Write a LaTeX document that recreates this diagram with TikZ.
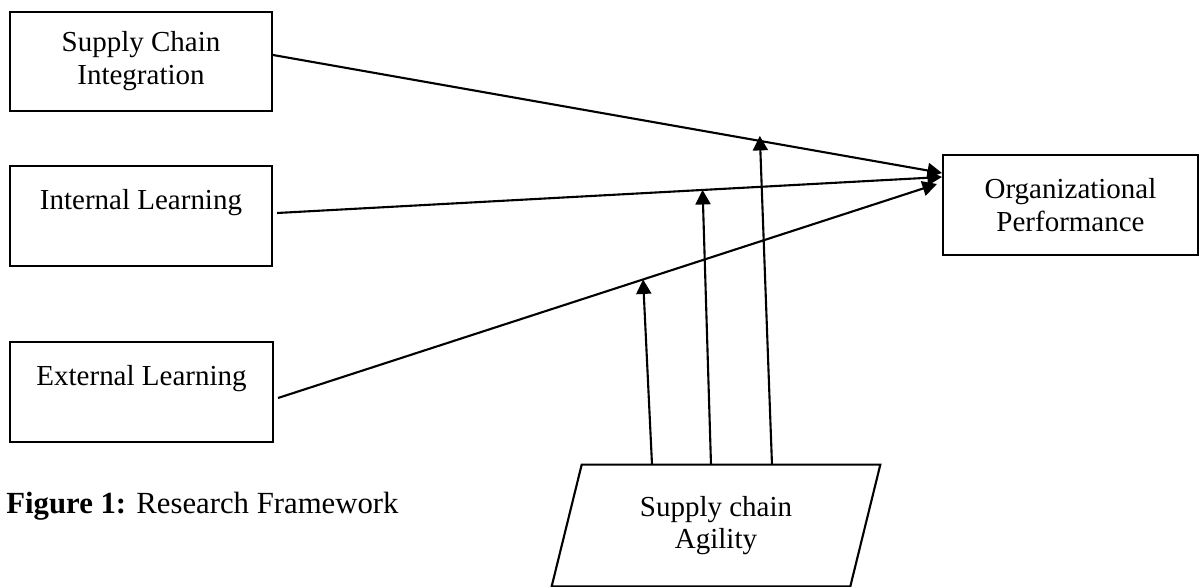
\documentclass[tikz,border=0pt]{standalone}
\usepackage{fontspec}
\setmainfont{Liberation Serif}
\usetikzlibrary{arrows.meta}

\begin{document}
\begin{tikzpicture}[x=0.02cm,y=-0.02cm,
        txt/.style={font=\fontsize{16.5}{18.7}\selectfont, align=center, inner sep=0pt},
        box/.style={txt, draw, line width=1.2pt},
        arr/.style={line width=1.2pt, -{Triangle[length=0.29cm,width=0.3cm]}}]
        \useasboundingbox (0,0) rectangle (1200,587);

        \node[box, minimum width=5.24cm, minimum height=1.98cm] (SCI) at (141,61.5) {Supply Chain\\Integration};
        \node[box, minimum width=5.24cm, minimum height=2cm] (IL) at (141,216) {Internal Learning\\\mbox{}};
        \node[box, minimum width=5.26cm, minimum height=2cm] (EL) at (141.5,392) {External Learning\\\mbox{}};
        \node[box, minimum width=5.1cm, minimum height=2cm] (OP) at (1070.5,205) {Organizational\\Performance};
        \node[txt, minimum width=5.96cm, minimum height=2.42cm] (SCA) at (716,525.5) {Supply chain\\Agility};
        \node[txt, font=\fontsize{17.5}{20}\selectfont, anchor=base west] (cap) at (6,513) {\textbf{Figure 1:} Research Framework};

        \draw[line width=1.2pt] ([xshift=0.3cm]SCA.north west) -- ([xshift=0.3cm]SCA.north east)
            -- ([xshift=-0.3cm]SCA.south east) -- ([xshift=-0.3cm]SCA.south west) -- cycle;

        \draw[arr] ([yshift=0.13cm]SCI.east) -- coordinate[pos=0.728] (m1) ([yshift=0.64cm]OP.west);
        \draw[arr] ([xshift=0.08cm,yshift=0.06cm]IL.east) -- coordinate[pos=0.64] (m2) ([yshift=0.56cm]OP.west);
        \draw[arr] ([xshift=0.08cm,yshift=-0.12cm]EL.east) -- coordinate[pos=0.554] (m3) ([xshift=-0.1cm,yshift=0.42cm]OP.west);

        \draw[arr] ([xshift=-1.28cm]SCA.north) -- (m3);
        \draw[arr] ([xshift=-0.1cm]SCA.north) -- (m2);
        \draw[arr, shorten >=-0.1cm] ([xshift=1.12cm]SCA.north) -- (m1);
    \end{tikzpicture}
\end{document}
